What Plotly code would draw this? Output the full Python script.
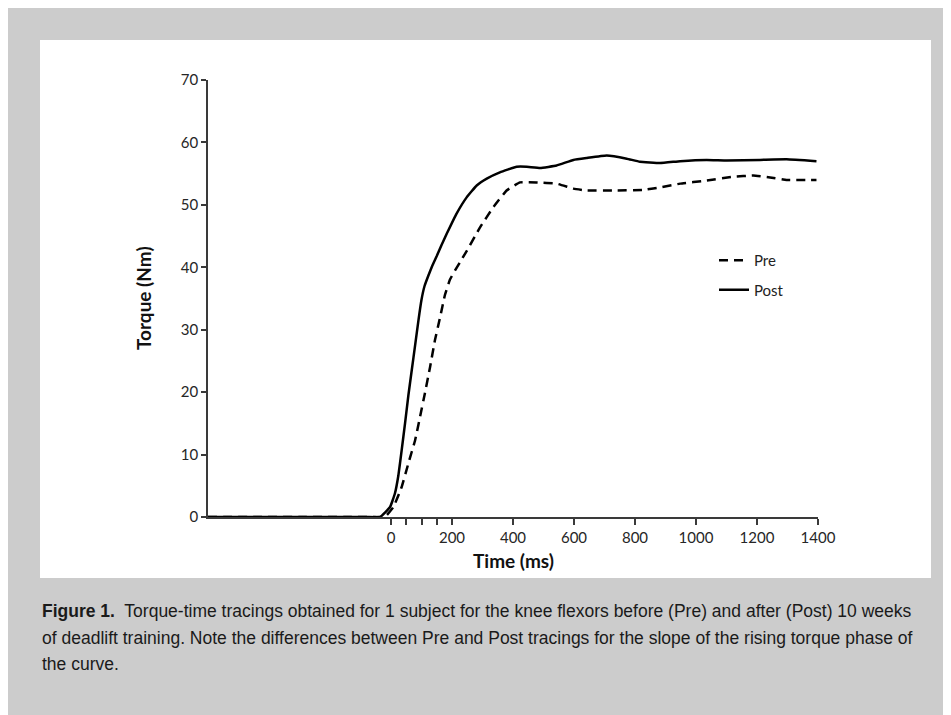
import plotly.graph_objects as go

# ---- data ----
post_t = [-600, -450, -300, -150, -80, -36, -3, 13, 24, 35, 46, 57, 68, 79, 90, 100, 110, 122, 135, 150, 165, 183,
          215, 248, 281, 314, 357, 412, 445, 489, 543, 598, 641, 707, 773, 816, 882, 948,
          1035, 1101, 1210, 1297, 1395]
post_v = [0, 0, 0, 0, 0, 0, 1.6, 3.8, 6.6, 10.7, 15, 19.5, 23.5, 27.5, 31.5, 34.8, 37.0, 38.6, 40.2, 41.8, 43.5, 45.4,
          48.6, 51.2, 53.1, 54.2, 55.2, 56.1, 56.1, 55.9, 56.3, 57.2, 57.5, 57.9, 57.4, 56.9, 56.7, 57.0,
          57.2, 57.1, 57.2, 57.3, 57.0]

pre_t = [-600, -450, -300, -150, -60, -20, 8, 35, 57, 79, 95, 111, 128, 144, 161, 177, 193, 210, 226, 248, 292,
         335, 379, 423, 477, 543, 598, 641, 728, 826, 882, 948, 1035, 1122, 1188, 1243, 1297, 1395]
pre_v = [0, 0, 0, 0, 0, 0, 1.6, 4.8, 8.6, 12.3, 16, 19.8, 24, 28.3, 32, 35.6, 38.0, 39.5, 40.8, 42.6, 46.4,
         49.6, 52.3, 53.6, 53.6, 53.4, 52.6, 52.3, 52.3, 52.4, 52.8, 53.4, 53.9, 54.5, 54.7, 54.4, 54.0, 54.0]

x_tickvals = [0, 50, 100, 150, 200, 400, 600, 800, 1000, 1200, 1400]
x_ticktext = ["0", "", "", "", "200", "400", "600", "800", "1000", "1200", "1400"]
y_tickvals = [0, 10, 20, 30, 40, 50, 60, 70]

caption_lines = [
    "<b>Figure 1.</b>  Torque-time tracings obtained for 1 subject for the knee flexors before (Pre) and after (Post) 10 weeks",
    "of deadlift training. Note the differences between Pre and Post tracings for the slope of the rising torque phase of",
    "the curve.",
]

# ---- layout geometry (screen pixels; page has an 8px body margin) ----
W, H = 951, 715
OFF = 8
L, R, T, B = 208, 818, 80, 517
pw, ph = R - L, B - T


def px(x):
    return (x - L) / pw


def py(y):
    return (B - y) / ph


fig = go.Figure()
fig.add_trace(go.Scatter(x=pre_t, y=pre_v, mode="lines", name="Pre", legendgroup="pre",
                         line=dict(color="black", width=2.5, dash="9px,6px", shape="spline", smoothing=0.3)))
fig.add_trace(go.Scatter(x=post_t, y=post_v, mode="lines", name="Post", legendgroup="post",
                         line=dict(color="black", width=2.5, shape="spline", smoothing=0.3)))

axis_font = dict(family="Lato, Open Sans, sans-serif", size=15, color="#262626")
title_font = dict(family="Lato, Open Sans, sans-serif", size=19, color="#111")

fig.update_layout(
    width=W, height=H,
    margin=dict(l=L - OFF, r=W - (R - OFF), t=T - OFF, b=H - (B - OFF), pad=0),
    paper_bgcolor="#cccccc",
    plot_bgcolor="white",
    showlegend=True,
    legend=dict(x=px(714), y=py(244), xanchor="left", yanchor="top",
                bgcolor="rgba(0,0,0,0)", font=dict(family="Lato, Open Sans, sans-serif", size=15, color="#222"),
                tracegroupgap=7, itemwidth=30),
    xaxis=dict(range=[-600, 1400], tickvals=x_tickvals, ticktext=x_ticktext,
               showline=True, linecolor="#3a3a3a", linewidth=1.5, ticks="outside", ticklen=6,
               tickcolor="#3a3a3a", tickwidth=1.5, showgrid=False, zeroline=False,
               tickfont=axis_font),
    yaxis=dict(range=[0, 70], tickvals=y_tickvals,
               showline=True, linecolor="#3a3a3a", linewidth=1.5, ticks="outside", ticklen=5,
               tickcolor="#3a3a3a", tickwidth=1.5, showgrid=False, zeroline=False,
               tickfont=axis_font),
    shapes=[
        dict(type="rect", xref="paper", yref="paper", layer="below",
             x0=px(40), x1=px(931), y0=py(578), y1=py(40),
             fillcolor="white", line=dict(width=0)),
    ],
)

annotations = [
    dict(text="<b>Time (ms)</b>", xref="paper", yref="paper", x=px(513), y=py(560),
         xanchor="center", yanchor="middle", showarrow=False, font=title_font),
    dict(text="<b>Torque (Nm)</b>", xref="paper", yref="paper", x=px(143), y=py(298),
         xanchor="center", yanchor="middle", showarrow=False, textangle=-90, font=title_font),
]
cap_y = [611, 638, 664]
for line, yy in zip(caption_lines, cap_y):
    annotations.append(dict(text=line, xref="paper", yref="paper", x=px(40), y=py(yy),
                            xanchor="left", yanchor="middle", showarrow=False, align="left",
                            font=dict(family="Liberation Sans, Arial, sans-serif", size=17.5, color="#1a1a1a")))
fig.update_layout(annotations=annotations)

fig.write_html("out.html")
